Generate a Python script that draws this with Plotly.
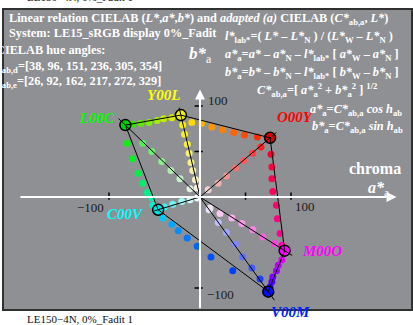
import plotly.graph_objects as go

# hexagon corners (CIELAB a*, b*) and their names / colours
corner_names = ["O00Y", "Y00L", "L00C", "C00V", "V00M", "M00O"]
corner_a = [77, -21, -82, -46, 75, 93]
corner_b = [65, 90, 79, -14, -104, -59]
corner_fill = ["#e00000", "#f0f000", "#00d000", "#00e0e0", "#0010ff", "#ff00ff"]
label_color = ["#ff0000", "#ffff00", "#00ff00", "#00ffff", "#0020ff", "#ff00ff"]

# dots along the hexagon edges
edge_a = [-74, -65, -56, -47, -40, -31,
          -9, 2, 13, 25, 37, 49, 63,
          78, 79, 79, 80, 84, 85, 88, 90,
          90, 86, 84, 80, 79, 77,
          36, 12, -3, -14, -24, -31, -41,
          -52, -53, -58, -63, -68, -74, -80]
edge_b = [80, 81, 82, 84, 86, 87,
          82, 81, 77, 74, 71, 68, 66,
          47, 33, 20, 6, -9, -24, -40, -53,
          -69, -75, -81, -88, -93, -99,
          -81, -66, -54, -45, -37, -30, -23,
          -9, -1, 5, 15, 26, 42, 59]
edge_color = ["#30e800", "#58ec00", "#80f000", "#a0f000", "#c0f000", "#d8f000",
              "#ffd800", "#ffb800", "#ff9800", "#ff8000", "#ff6400", "#ff4c00", "#ff3000",
              "#ff0030", "#ff0040", "#ff0050", "#ff0060", "#ff0070", "#ff0080", "#ff0090", "#ff00a8",
              "#e000f0", "#c000f8", "#a000ff", "#8000ff", "#6000ff", "#3000ff",
              "#0040ff", "#0050ff", "#0064ff", "#0078ff", "#0090ff", "#00a8ff", "#00c8ff",
              "#00f0c8", "#00f0a8", "#00f088", "#00f068", "#00f048", "#00f028", "#10f010"]

# dots along the lines from the grey point to each corner
radial_a = [67, 58, 48, 39, 29, 20, 9,
            -19, -17, -14, -12, -10, -8, -5, -3,
            -63, -53, -42, -32, -22, -11,
            -39, -30, -20, -11, -3,
            66, 57, 47, 39, 29, 20, 10,
            82, 69, 58, 46, 35, 22, 11]
radial_b = [55, 48, 40, 32, 23, 15, 8,
            79, 69, 58, 48, 38, 29, 19, 10,
            59, 50, 39, 29, 20, 9,
            -11, -8, -5, -3, -1,
            -90, -78, -66, -52, -39, -28, -14,
            -51, -44, -36, -29, -23, -18, -12]
radial_color = ["#ff2020", "#ff4040", "#ff5858", "#f87070", "#f09090", "#f0b0b0", "#f0d0d0",
                "#f8f000", "#f8f020", "#f8f040", "#f8f060", "#f8f080", "#f8f0a0", "#f8f0c0", "#f8f0e0",
                "#50f050", "#70f070", "#90f090", "#a8f0a8", "#c8f0c8", "#e0f0e0",
                "#40f0f0", "#70f0f0", "#a0f8f8", "#d0f8f8", "#f0ffff",
                "#2040ff", "#4058ff", "#6070ff", "#8088ff", "#a0a8ff", "#c0c0ff", "#e0e0ff",
                "#ff40e0", "#ff60e0", "#ff80e8", "#ff98e8", "#ffb0f0", "#f8c8f0", "#f0e0f0"]

W, H = 413, 325
X0, Y0, S = 200, 197, 0.91   # pixel of a*=b*=0, pixels per unit


def px(x, y):
    return x / W, 1 - y / H


def text_at(fig, t, x, y, font, anchor="center"):
    xx, yy = px(x, y)
    fig.add_annotation(x=xx, y=yy, xref="paper", yref="paper", showarrow=False, text=t,
                       xanchor=anchor, yanchor="middle", font=font)


fig = go.Figure()

# grey frame
fig.add_shape(type="rect", xref="paper", yref="paper", x0=3 / W, x1=412 / W,
              y0=1 - 310 / H, y1=1 - 9 / H, fillcolor="#8f9094",
              line=dict(color="#303030", width=2), layer="below")

# white axes with arrows
fig.add_annotation(x=216, y=0, ax=-199, ay=0, xref="x", yref="y", axref="x", ayref="y",
                   showarrow=True, arrowhead=2, arrowsize=1, arrowwidth=2, arrowcolor="white", text="")
fig.add_annotation(x=0, y=118, ax=0, ay=-124, xref="x", yref="y", axref="x", ayref="y",
                   showarrow=True, arrowhead=2, arrowsize=1, arrowwidth=2, arrowcolor="white", text="")

# ticks
for v in [-100, 50, 100]:
    fig.add_shape(type="line", x0=v, x1=v, y0=-3, y1=5, line=dict(color="black", width=1.5))
for v in [100, 50, -100]:
    fig.add_shape(type="line", x0=-6, x1=3, y0=v, y1=v, line=dict(color="black", width=1.5))

# hexagon edges and radial lines
n = len(corner_a)
for i in range(n):
    j = (i + 1) % n
    fig.add_shape(type="line", x0=corner_a[i], y0=corner_b[i], x1=corner_a[j], y1=corner_b[j],
                  line=dict(color="black", width=1))
    fig.add_shape(type="line", x0=0, y0=0, x1=corner_a[i] * 1.09, y1=corner_b[i] * 1.09,
                  line=dict(color="black", width=1))

fig.add_trace(go.Scatter(x=edge_a, y=edge_b, mode="markers",
                         marker=dict(size=7, color=edge_color, line=dict(width=0))))
fig.add_trace(go.Scatter(x=radial_a, y=radial_b, mode="markers",
                         marker=dict(size=7, color=radial_color, line=dict(width=0))))
fig.add_trace(go.Scatter(x=corner_a, y=corner_b, mode="markers",
                         marker=dict(size=11, color=corner_fill, line=dict(color="black", width=1.5))))

# corner labels
label_pos = {"O00Y": (295, 117), "Y00L": (163, 95), "L00C": (97, 118),
             "C00V": (125, 214), "V00M": (290, 312), "M00O": (322, 251)}
for name, col in zip(corner_names, label_color):
    x, y = label_pos[name]
    text_at(fig, "<b><i>%s</i></b>" % name, x, y,
            dict(family="Liberation Serif", size=15, color=col))

# tick labels
tick_font = dict(family="Liberation Serif", size=13, color="#1a1a1a")
for t, x, y, anc in [("100", 206, 100, "left"), ("\u2212100", 106, 207, "right"),
                     ("100", 293, 206, "left"), ("\u2212100", 205, 294, "left")]:
    text_at(fig, t, x, y, tick_font, anc)

# texts
white_b = dict(family="Liberation Serif", size=12.3, color="white")
texts = [
    ("<b>Linear relation CIELAB (<i>L*</i>,<i>a*</i>,<i>b*</i>) and <i>adapted (a)</i> CIELAB (<i>C*</i><sub>ab,a</sub>, <i>L*</i>)</b>", 7, 19),
    ("<b>System: LE15_sRGB display 0%_Fadit</b>", 7, 33),
    ("<b>CIELAB hue angles:</b>", -6, 50),
    ("<b><i>h</i><sub>ab,d</sub>=[38, 96, 151, 236, 305, 354]</b>", -7, 67),
    ("<b><i>h</i><sub>ab,e</sub>=[26, 92, 162, 217, 272, 329]</b>", -7, 82),
    ("<b><i>l*</i><sub>lab*</sub>=( <i>L*</i> \u2013 <i>L*</i><sub>N</sub> ) / (<i>L*</i><sub>W</sub> \u2013 <i>L*</i><sub>N</sub> )</b>", 223, 37),
    ("<b><i>a*</i><sub>a</sub>=<i>a*</i> \u2013 <i>a*</i><sub>N</sub> \u2013 <i>l*</i><sub>lab*</sub> [ <i>a*</i><sub>W</sub> \u2013 <i>a*</i><sub>N</sub> ]</b>", 223, 55),
    ("<b><i>b*</i><sub>a</sub>=<i>b*</i> \u2013 <i>b*</i><sub>N</sub> \u2013 <i>l*</i><sub>lab*</sub> [ <i>b*</i><sub>W</sub> \u2013 <i>b*</i><sub>N</sub> ]</b>", 223, 73),
    ("<b><i>C*</i><sub>ab,a</sub>=[ <i>a*</i><sub>a</sub><sup>2</sup> + <i>b*</i><sub>a</sub><sup>2</sup> ] <sup>1/2</sup></b>", 255, 90),
    ("<b><i>a*</i><sub>a</sub>=<i>C*</i><sub>ab,a</sub> <i>cos h</i><sub>ab</sub></b>", 308, 110),
    ("<b><i>b*</i><sub>a</sub>=<i>C*</i><sub>ab,a</sub> <i>sin h</i><sub>ab</sub></b>", 310, 127),
]
for t, x, y in texts:
    text_at(fig, t, x, y, white_b, "left")

big = dict(family="Liberation Serif", size=17, color="white")
text_at(fig, "<b><i>b*</i></b><sub>a</sub>", 187, 55, big, "left")
text_at(fig, "<b>chroma</b>", 375, 168, dict(big, size=16))
text_at(fig, "<b><i>a*</i></b><sub>a</sub>", 378, 188, dict(big, size=16))

small = dict(family="Liberation Serif", size=11, color="#111111")
for y in [-3, 319]:
    text_at(fig, "LE150\u22124N, 0%_Fadit 1", 80, y, small)

fig.update_layout(width=W, height=H, margin=dict(l=0, r=0, t=0, b=0),
                  paper_bgcolor="white", plot_bgcolor="rgba(0,0,0,0)", showlegend=False,
                  xaxis=dict(range=[-X0 / S, (W - X0) / S], visible=False, fixedrange=True),
                  yaxis=dict(range=[(Y0 - H) / S, Y0 / S], visible=False, fixedrange=True))

# page has a default body margin; drop it so the figure sits at the window corner
fig.write_html("out.html", config={"displayModeBar": False},
               post_script="document.body.style.margin='0px';")
